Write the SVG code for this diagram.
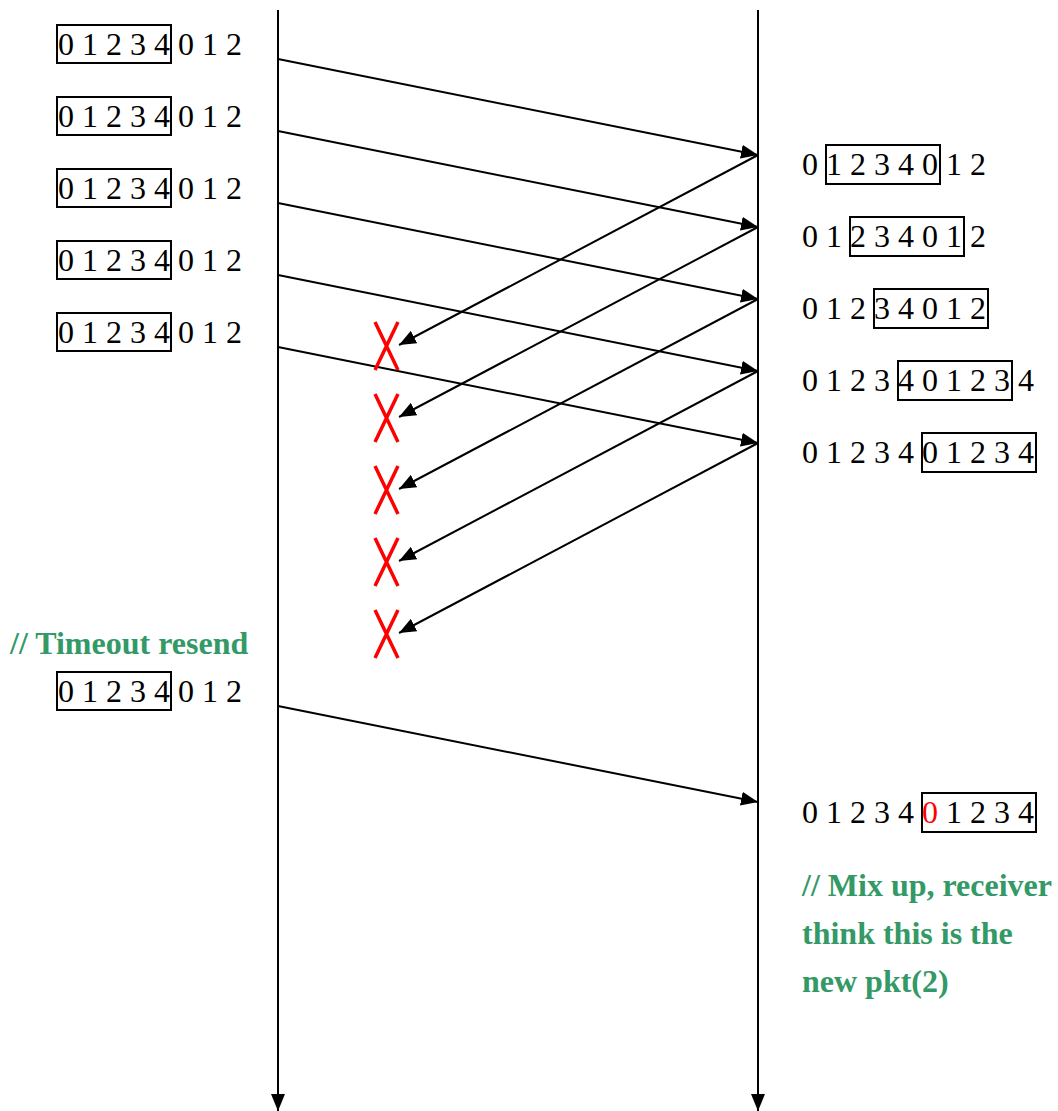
<svg xmlns="http://www.w3.org/2000/svg" width="1058" height="1111" viewBox="0 0 1058 1111">
<style>
.t{font-family:"Liberation Serif","Times New Roman",serif;font-size:32px;fill:#000}
.g{font-family:"Liberation Serif","Times New Roman",serif;font-size:32px;font-weight:bold;fill:#339966}
.box{fill:none;stroke:#000;stroke-width:2}
.ln{stroke:#000;stroke-width:2;fill:none}
.x{stroke:#ff0000;stroke-width:3.5;fill:none}
</style>
<defs>
<marker id="ah" markerUnits="userSpaceOnUse" markerWidth="18" markerHeight="14" refX="17" refY="7" orient="auto">
<path d="M0,0 L17,7 L0,14 z" fill="#000"/>
</marker>
</defs>
<g id="connectors">
<line class="ln" x1="278" y1="10" x2="278" y2="1111" marker-end="url(#ah)"/>
<line class="ln" x1="758" y1="10" x2="758" y2="1111" marker-end="url(#ah)"/>
<line class="ln" x1="278" y1="59" x2="758" y2="155" marker-end="url(#ah)"/>
<line class="ln" x1="278" y1="131" x2="758" y2="227" marker-end="url(#ah)"/>
<line class="ln" x1="278" y1="203" x2="758" y2="299" marker-end="url(#ah)"/>
<line class="ln" x1="278" y1="275" x2="758" y2="371" marker-end="url(#ah)"/>
<line class="ln" x1="278" y1="347" x2="758" y2="443" marker-end="url(#ah)"/>
<line class="ln" x1="278" y1="706" x2="758" y2="802" marker-end="url(#ah)"/>
<line class="ln" x1="758" y1="155" x2="399" y2="345" marker-end="url(#ah)"/>
<line class="ln" x1="758" y1="227" x2="399" y2="417" marker-end="url(#ah)"/>
<line class="ln" x1="758" y1="299" x2="399" y2="489" marker-end="url(#ah)"/>
<line class="ln" x1="758" y1="371" x2="399" y2="561" marker-end="url(#ah)"/>
<line class="ln" x1="758" y1="443" x2="399" y2="633" marker-end="url(#ah)"/>
</g>
<g id="losses">
<path class="x" d="M375,322 L398,370 M398,322 L375,370"/>
<path class="x" d="M375,394 L398,442 M398,394 L375,442"/>
<path class="x" d="M375,466 L398,514 M398,466 L375,514"/>
<path class="x" d="M375,538 L398,586 M398,538 L375,586"/>
<path class="x" d="M375,610 L398,658 M398,610 L375,658"/>
</g>
<g id="sender1"><rect class="box" x="57" y="25" width="114" height="38"/><text class="t" x="58" y="55">0 1 2 3 4 0 1 2</text></g>
<g id="sender2"><rect class="box" x="57" y="97" width="114" height="38"/><text class="t" x="58" y="127">0 1 2 3 4 0 1 2</text></g>
<g id="sender3"><rect class="box" x="57" y="169" width="114" height="38"/><text class="t" x="58" y="199">0 1 2 3 4 0 1 2</text></g>
<g id="sender4"><rect class="box" x="57" y="241" width="114" height="38"/><text class="t" x="58" y="271">0 1 2 3 4 0 1 2</text></g>
<g id="sender5"><rect class="box" x="57" y="313" width="114" height="38"/><text class="t" x="58" y="343">0 1 2 3 4 0 1 2</text></g>
<g id="timeout-note"><text class="g" x="10" y="654">// Timeout resend</text></g>
<g id="sender-resend"><rect class="box" x="57" y="672" width="114" height="38"/><text class="t" x="58" y="702">0 1 2 3 4 0 1 2</text></g>
<g id="recv1"><rect class="box" x="826" y="145" width="114" height="39"/><text class="t" x="802" y="175">0 1 2 3 4 0 1 2</text></g>
<g id="recv2"><rect class="box" x="850" y="217" width="114" height="39"/><text class="t" x="802" y="247">0 1 2 3 4 0 1 2</text></g>
<g id="recv3"><rect class="box" x="874" y="289" width="114" height="39"/><text class="t" x="802" y="319">0 1 2 3 4 0 1 2</text></g>
<g id="recv4"><rect class="box" x="898" y="361" width="114" height="39"/><text class="t" x="802" y="391">0 1 2 3 4 0 1 2 3 4</text></g>
<g id="recv5"><rect class="box" x="922" y="433" width="114" height="39"/><text class="t" x="802" y="463">0 1 2 3 4 0 1 2 3 4</text></g>
<g id="recv-final"><rect class="box" x="922" y="793" width="114" height="39"/><text class="t" x="802" y="823">0 1 2 3 4 <tspan fill="#ff0000">0</tspan> 1 2 3 4</text></g>
<g id="mixup-note"><text class="g" x="802" y="896">// Mix up, receiver</text><text class="g" x="802" y="944">think this is the</text><text class="g" x="802" y="992">new pkt(2)</text></g>
</svg>
